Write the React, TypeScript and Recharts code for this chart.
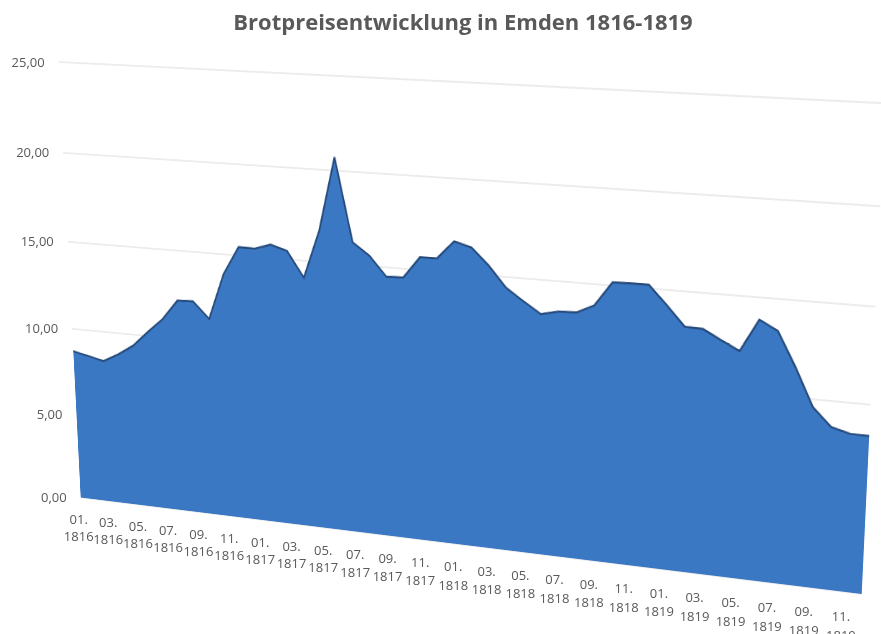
import { AreaChart, Area, XAxis, YAxis, CartesianGrid } from "recharts";

const years = ["1816", "1817", "1818", "1819"];
const monthNums = ["01", "02", "03", "04", "05", "06", "07", "08", "09", "10", "11", "12"];
const months = years.flatMap((y) => monthNums.map((m) => `${m}. ${y}`));

// bread price per month
const prices = [
  8.69, 8.5, 8.3, 8.78, 9.36, 10.23, 11.05, 12.18, 12.22, 11.3, 13.89, 15.47,
  15.45, 15.74, 15.46, 14.07, 16.72, 20.71, 16.22, 15.56, 14.49, 14.53, 15.69, 15.71,
  16.68, 16.43, 15.53, 14.43, 13.78, 13.18, 13.4, 13.43, 13.88, 15.17, 15.19, 15.19,
  14.21, 13.17, 13.13, 12.63, 12.15, 13.86, 13.36, 11.57, 9.58, 8.65, 8.4, 8.38,
];

const yTicks = [0, 5, 10, 15, 20, 25];

const data = months.map((month, i) => ({ month, price: prices[i] }));

// flat chart size and its plot rectangle
const CW = 1010;
const CH = 510;
const PL = 5;
const PT = 5;
const PW = 1000;
const PH = 500;

// where the plot corners end up on the page: bottom-left, bottom-right, top-right, top-left
const QUAD = [
  [80.7, 497.5],
  [861.7, 594],
  [885.1, 103.3],
  [58.7, 62],
];

function squareToQuad(q: number[][]) {
  const [[x0, y0], [x1, y1], [x2, y2], [x3, y3]] = q;
  const dx1 = x1 - x2, dx2 = x3 - x2, dx3 = x0 - x1 + x2 - x3;
  const dy1 = y1 - y2, dy2 = y3 - y2, dy3 = y0 - y1 + y2 - y3;
  const den = dx1 * dy2 - dx2 * dy1;
  const g = (dx3 * dy2 - dx2 * dy3) / den;
  const h = (dx1 * dy3 - dx3 * dy1) / den;
  return [
    [x1 - x0 + g * x1, x3 - x0 + h * x3, x0],
    [y1 - y0 + g * y1, y3 - y0 + h * y3, y0],
    [g, h, 1],
  ];
}

function mul(a: number[][], b: number[][]) {
  return a.map((row) => [0, 1, 2].map((j) => row[0] * b[0][j] + row[1] * b[1][j] + row[2] * b[2][j]));
}

const toUnit = [
  [1 / PW, 0, -PL / PW],
  [0, -1 / PH, (PT + PH) / PH],
  [0, 0, 1],
];
const M = mul(squareToQuad(QUAD), toUnit);

function project(x: number, y: number) {
  const w = M[2][0] * x + M[2][1] * y + M[2][2];
  return [(M[0][0] * x + M[0][1] * y + M[0][2]) / w, (M[1][0] * x + M[1][1] * y + M[1][2]) / w, w];
}

const cssMatrix = `matrix3d(${M[0][0]},${M[1][0]},0,${M[2][0]},${M[0][1]},${M[1][1]},0,${M[2][1]},0,0,1,0,${M[0][2]},${M[1][2]},0,${M[2][2]})`;

const FONT = "'Open Sans', sans-serif";
const TEXT = "#595959";

function XTick(props: any) {
  const { payload } = props;
  const [X, Y, w] = project(payload.coordinate, PT + PH);
  const [m, y] = String(payload.value).split(" ");
  const k = 1 / w;
  return (
    <g>
      <text x={X - 2} y={Y + 26 * k} textAnchor="middle" fill={TEXT} fontSize={13} fontFamily={FONT}>{m}</text>
      <text x={X - 2} y={Y + 43 * k} textAnchor="middle" fill={TEXT} fontSize={13} fontFamily={FONT}>{y}</text>
    </g>
  );
}

function YTick(props: any) {
  const { payload } = props;
  const [X, Y] = project(PL, payload.coordinate);
  return (
    <text x={X - 14} y={Y + 4.5} textAnchor="end" fill={TEXT} fontSize={13} fontFamily={FONT}>
      {Number(payload.value).toFixed(2).replace(".", ",")}
    </text>
  );
}

export default function App() {
  return (
    <div style={{ position: "absolute", left: 0, top: 0, width: 881, height: 634, overflow: "hidden", background: "#fff" }}>
      <div style={{ position: "absolute", left: 0, top: 0, width: CW, height: CH, transform: cssMatrix, transformOrigin: "0 0" }}>
        <AreaChart width={CW} height={CH} data={data} margin={{ top: PT, right: CW - PL - PW, bottom: CH - PT - PH, left: PL }}>
          <CartesianGrid vertical={false} stroke="#d9d9d9" />
          <XAxis dataKey="month" hide />
          <YAxis hide domain={[0, 25]} ticks={yTicks} />
          <Area
            type="linear"
            dataKey="price"
            fill="#3b78c4"
            fillOpacity={1}
            stroke="#24497a"
            strokeWidth={2.2}
            dot={false}
            activeDot={false}
            isAnimationActive={false}
          />
        </AreaChart>
      </div>
      {/* flat copy of the same plot, only for the axis labels */}
      <div style={{ position: "absolute", left: 0, top: 0 }}>
        <AreaChart width={CW} height={660} data={data} margin={{ top: PT, right: CW - PL - PW, bottom: 660 - PT - PH - 1, left: PL - 1 }}>
          <XAxis dataKey="month" height={1} interval={1} axisLine={false} tickLine={false} tick={<XTick />} />
          <YAxis width={1} domain={[0, 25]} ticks={yTicks} interval={0} axisLine={false} tickLine={false} tick={<YTick />} />
          <Area dataKey="price" stroke="none" fill="none" isAnimationActive={false} />
        </AreaChart>
      </div>
      <div
        style={{
          position: "absolute", left: 0, top: 5, width: 926, textAlign: "center",
          fontFamily: FONT, fontWeight: 700, fontSize: 22, lineHeight: "32px", color: TEXT,
        }}
      >
        Brotpreisentwicklung in Emden 1816-1819
      </div>
    </div>
  );
}
